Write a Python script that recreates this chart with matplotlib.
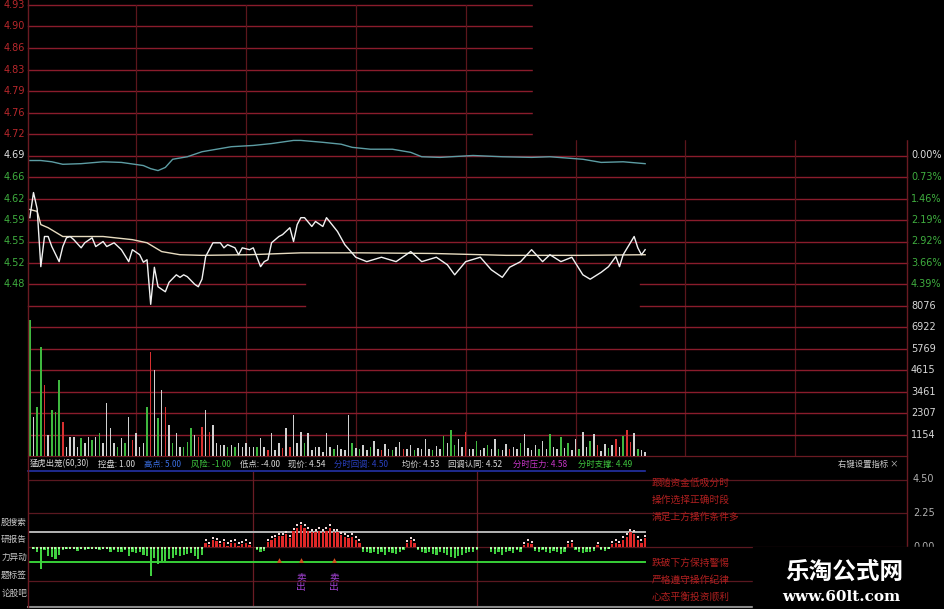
import matplotlib
matplotlib.use('Agg')
import matplotlib.pyplot as plt
import matplotlib.transforms as mtransforms
from matplotlib.patches import Rectangle

plt.rcParams['font.family'] = ['Noto Sans CJK SC', 'DejaVu Sans']

W, H = 945, 609

# ---------------- data ----------------
prev_close = 4.69
left_labels = ['4.93', '4.90', '4.86', '4.83', '4.79', '4.76', '4.72',
               '4.69', '4.66', '4.62', '4.59', '4.55', '4.52', '4.48']
pct_labels = ['0.00%', '0.73%', '1.46%', '2.19%', '2.92%', '3.66%', '4.39%']
vol_labels = ['8076', '6922', '5769', '4615', '3461', '2307', '1154']
vol_top = 8076
ind_labels = ['4.50', '2.25', '0.00']
ind_levels = [4.50, 2.25, 0.00, -2.25]

# price (white line)
price_min = [0, 1, 2, 3, 4, 5, 6, 8, 9, 10, 11, 12, 14, 15, 17, 18, 20, 21, 23, 25,
             27, 28, 30, 31, 32, 33, 34, 35, 37, 38, 40, 41, 42, 43, 45, 46, 47, 48, 50, 52,
             53, 54, 56, 57, 58, 60, 61, 63, 64, 65, 66, 68, 69, 71, 72, 73, 74, 75, 77, 78,
             80, 81, 84, 86, 89, 92, 96, 100, 104, 107, 111, 114, 116, 119, 123, 126, 129, 131, 134, 137,
             140, 142, 145, 148, 151, 153, 156, 158, 160, 161, 162, 165, 166, 167, 168]
price_val = [4.591, 4.631, 4.605, 4.513, 4.561, 4.561, 4.545, 4.521, 4.545, 4.559,
             4.561, 4.556, 4.543, 4.551, 4.559, 4.545, 4.553, 4.545, 4.551, 4.540,
             4.521, 4.540, 4.532, 4.520, 4.524, 4.453, 4.512, 4.481, 4.473, 4.488,
             4.500, 4.496, 4.500, 4.497, 4.485, 4.481, 4.493, 4.529, 4.551, 4.551,
             4.543, 4.548, 4.543, 4.532, 4.543, 4.540, 4.543, 4.513, 4.521, 4.524,
             4.551, 4.561, 4.564, 4.575, 4.553, 4.580, 4.591, 4.591, 4.577, 4.585,
             4.577, 4.591, 4.569, 4.548, 4.528, 4.521, 4.528, 4.521, 4.537, 4.521,
             4.528, 4.516, 4.500, 4.521, 4.528, 4.508, 4.496, 4.512, 4.521, 4.540,
             4.521, 4.532, 4.521, 4.528, 4.500, 4.493, 4.504, 4.513, 4.529, 4.513,
             4.532, 4.561, 4.543, 4.532, 4.540]

# average price (pale yellow line)
avg_min = [0, 2, 3, 5, 9, 20, 28, 32, 36, 41, 47, 60, 74, 90, 110, 130, 150, 168]
avg_val = [4.604, 4.601, 4.580, 4.575, 4.561, 4.561, 4.556, 4.551, 4.537, 4.532,
           4.531, 4.532, 4.535, 4.535, 4.534, 4.531, 4.531, 4.532]

# index overlay (teal line)
idx_min = [0, 3, 6, 9, 14, 20, 25, 31, 33, 35, 37, 39, 43, 47, 51, 55, 61, 66, 72, 74,
           80, 85, 88, 93, 99, 104, 107, 112, 121, 129, 137, 142, 151, 156, 162, 168]
idx_val = [4.682, 4.682, 4.680, 4.676, 4.677, 4.680, 4.679, 4.674, 4.669, 4.666,
           4.671, 4.684, 4.688, 4.696, 4.700, 4.704, 4.706, 4.709, 4.714, 4.714,
           4.711, 4.708, 4.703, 4.700, 4.700, 4.695, 4.688, 4.687, 4.690, 4.688,
           4.687, 4.688, 4.684, 4.679, 4.680, 4.677]

# volume per minute, colour code r/g/w
volume = [7300, 2110, 2650, 5870, 3810, 1130, 2470, 2380, 4080, 1840,
          500, 1040, 1040, 500, 950, 680, 1040, 860, 1040, 1220,
          680, 2830, 1490, 680, 500, 950, 680, 2110, 860, 1220,
          500, 680, 2650, 5600, 4620, 2020, 3540, 2650, 1660, 680,
          1220, 500, 500, 770, 1490, 1130, 1040, 1580, 2470, 1310,
          1660, 680, 590, 590, 500, 590, 500, 680, 500, 680,
          500, 500, 500, 950, 500, 320, 1220, 320, 680, 410,
          1490, 500, 2200, 680, 1310, 680, 1220, 320, 500, 500,
          230, 1220, 500, 350, 600, 400, 300, 2200, 700, 450,
          350, 600, 300, 500, 800, 400, 300, 650, 400, 300,
          500, 750, 350, 400, 600, 300, 450, 350, 900, 400,
          300, 550, 400, 1100, 700, 1400, 600, 900, 500, 1300,
          400, 350, 800, 300, 450, 600, 350, 900, 400, 300,
          650, 400, 500, 350, 700, 1200, 450, 300, 600, 350,
          800, 400, 1200, 500, 350, 1000, 450, 700, 300, 900,
          400, 1300, 500, 800, 1200, 600, 250, 650, 450, 600,
          900, 500, 1050, 1400, 750, 1250, 400, 300, 200]
vol_color = ("gwggrwgggrwwwwgwwgwgwwwwgwgwrwwwgrwgwrwgwwgggwrrwrwwwwgwgwwwwwgwwrwwwrwrwwwgwwwww"
             "wwgwwwwgwgwwgwwrwwgwwrwwgwwwwgwwgwggwwrwwgwwgwwgwwrwwgwwwwgwwgwwgwgwwgwwgwrwwgwrwgrrwgwww")

# 猛虎出笼 indicator per minute
signal = [0, -0.15, -0.35, -1.45, -0.2, -0.6, -0.65, -0.8, -0.5, -0.2,
          -0.1, -0.05, -0.1, -0.25, -0.1, -0.2, -0.1, -0.15, -0.1, -0.2,
          -0.15, -0.1, -0.3, -0.2, -0.3, -0.35, -0.2, -0.6, -0.3, -0.4,
          -0.3, -0.5, -0.6, -1.9, -0.7, -1.1, -0.9, -0.9, -0.8, -0.7,
          -0.5, -0.6, -0.5, -0.45, -0.4, -0.6, -0.8, -0.55, 0.3, 0.15,
          0.45, 0.4, 0.2, 0.35, 0.1, 0.25, 0.3, 0.1, 0.2, 0.3,
          0.15, 0, -0.2, -0.3, -0.25, 0.35, 0.5, 0.6, 0.73, 0.75,
          0.85, 0.6, 1.06, 1.3, 1.45, 1.3, 1.1, 1.0, 1.0, 1.1,
          1.0, 1.1, 1.3, 1.0, 1.0, 0.8, 0.7, 0.6, 0.7, 0.5,
          0.3, -0.3, -0.35, -0.4, -0.3, -0.45, -0.35, -0.5, -0.3, -0.4,
          -0.45, -0.3, -0.2, 0.25, 0.45, 0.3, -0.2, -0.35, -0.4, -0.3,
          -0.45, -0.5, -0.35, -0.4, -0.55, -0.65, -0.7, -0.6, -0.55, -0.4,
          -0.3, -0.35, -0.2, 0, 0, 0, -0.3, -0.45, -0.35, -0.5,
          -0.3, -0.25, -0.4, -0.2, -0.3, 0.15, 0.3, 0.2, -0.25, -0.3,
          -0.2, -0.35, -0.4, -0.25, -0.3, -0.45, -0.3, 0.2, 0.25, -0.2,
          -0.3, -0.4, -0.35, -0.3, -0.25, 0.15, -0.2, -0.25, -0.15, 0.2,
          0.3, 0.2, 0.5, 0.7, 1.0, 0.9, 0.5, 0.3, 0.6]
kongpan = 1.00
fengxian = -1.00
buy_marks = [68, 74, 83]
sell_marks = [74, 83]

header_items = [('猛虎出笼(60,30)', '#d8d8d8', 30), ('控盘: 1.00', '#d8d8d8', 98),
                ('高点: 5.00', '#3a6ee0', 144), ('风险: -1.00', '#3ec43e', 191),
                ('低点: -4.00', '#d8d8d8', 240), ('现价: 4.54', '#d8d8d8', 288),
                ('分时回调: 4.50', '#2a40c0', 334), ('均价: 4.53', '#d8d8d8', 402),
                ('回调认同: 4.52', '#d8d8d8', 448), ('分时压力: 4.58', '#c636c6', 513),
                ('分时支撑: 4.49', '#3ec43e', 578)]
side_labels = ['股搜索', '研报告', '力异动', '题标签', '论股吧']
note_upper = ['跟随资金低吸分时', '操作选择正确时段', '满足上方操作条件多']
note_lower = ['跌破下方保持警惕', '严格遵守操作纪律', '心态平衡投资顺利']

# ---------------- figure ----------------
HGRID = '#8a1c2c'
VGRID = '#5c161c'
fig = plt.figure(figsize=(W / 100, H / 100), dpi=100, facecolor='black')


def box(x0, y0, x1, y1):
    return [x0 / W, 1 - y1 / H, (x1 - x0) / W, (y1 - y0) / H]


X0, X1 = 28, 907
ax_p = fig.add_axes(box(X0, 5, X1, 306))
ax_v = fig.add_axes(box(X0, 306, X1, 456))
ax_i = fig.add_axes(box(X0, 472, X1, 607))
for ax in (ax_p, ax_v, ax_i):
    ax.set_xlim(-0.5, 239.5)
    ax.axis('off')

# price panel
levels = [prev_close * (1 + 0.0073 * k) for k in range(7, -8, -1)]
ax_p.set_ylim(levels[-1], levels[0])
cut = (305 - X0) / (X1 - X0), (640 - X0) / (X1 - X0)
for i, lv in enumerate(levels[:-1]):
    if i == 13:
        ax_p.axhline(lv, xmax=cut[0], color=HGRID, lw=1.0)
        ax_p.axhline(lv, xmin=cut[1], color=HGRID, lw=1.0)
    else:
        ax_p.axhline(lv, color=HGRID, lw=1.0, clip_on=False)
for m in range(29, 239, 30):
    ax_p.axvline(m, color=VGRID, lw=0.9)
    ax_v.axvline(m, color=VGRID, lw=0.9)

ax_p.plot(idx_min, idx_val, color='#5d9da4', lw=1.0, zorder=3)
ax_p.plot(avg_min, avg_val, color='#e8dcc0', lw=1.0, zorder=3)
ax_p.plot(price_min, price_val, color='#f2f2f2', lw=1.0, zorder=4)

tl = mtransforms.blended_transform_factory(fig.transFigure, ax_p.transData)
for i, lab in enumerate(left_labels):
    col = '#b8282c' if i < 7 else ('#e0e0e0' if i == 7 else '#3fae3f')
    ax_p.text(25 / W, levels[i], lab, transform=tl, ha='right', va='center',
              fontsize=7, color=col, family='DejaVu Sans')
for j, lab in enumerate(pct_labels):
    col = '#e0e0e0' if j == 0 else '#3fae3f'
    ax_p.text(911 / W, levels[7 + j], lab, transform=tl, ha='left', va='center',
              fontsize=7, color=col, family='DejaVu Sans')

# volume panel
ax_v.set_ylim(0, vol_top)
cmap = {'r': '#d83030', 'g': '#3fb83f', 'w': '#d0d0d0'}
ax_v.bar(range(len(volume)), volume, width=0.4,
         color=[cmap[c] for c in vol_color[:len(volume)]], zorder=3)
for j in range(7):
    lv = vol_top * (7 - j) / 7
    if j == 0:
        ax_v.axhline(lv, xmax=cut[0], color=HGRID, lw=1.0, clip_on=False)
        ax_v.axhline(lv, xmin=cut[1], color=HGRID, lw=1.0, clip_on=False)
    else:
        ax_v.axhline(lv, color=HGRID, lw=1.0)
ax_v.axhline(0, color='#6a1a22', lw=0.9, clip_on=False)
tv = mtransforms.blended_transform_factory(fig.transFigure, ax_v.transData)
for j, lab in enumerate(vol_labels):
    ax_v.text(911 / W, vol_top * (7 - j) / 7, lab, transform=tv, ha='left',
              va='center', fontsize=7, color='#d8d8d8', family='DejaVu Sans')

# indicator header
for txt, col, x in header_items:
    fig.text(x / W, 1 - 464 / H, txt, color=col, fontsize=6, ha='left', va='center')
fig.add_artist(plt.Line2D([X0 / W, 645 / W], [1 - 470.5 / H] * 2, color='#2432a8', lw=1.2))
fig.text(838 / W, 1 - 464 / H, '右键设置指标 ×', color='#c8c8c8', fontsize=6, ha='left', va='center')

# indicator panel
ax_i.set_ylim(-4, 5)
for lv in ind_levels:
    ax_i.axhline(lv, color='#5a1820', lw=0.9)
for m in (61, 122):
    ax_i.axvline(m, color='#6a1c24', lw=0.9)
ax_i.axhline(-4, color='#8a8a8a', lw=1.5, clip_on=False)
mins = list(range(len(signal)))
ax_i.bar(mins, signal, width=0.62,
         color=['#e02828' if v > 0 else '#40d040' for v in signal], zorder=3)
pos = [(m, v + 0.14) for m, v in zip(mins, signal) if v > 0]
ax_i.scatter([p[0] for p in pos], [p[1] for p in pos], s=2.5, marker='s',
             color='#f0d8d8', zorder=4, linewidths=0)
neg = [m for m, v in zip(mins, signal) if v < 0]
ax_i.scatter(neg, [-0.08] * len(neg), s=2.5, marker='s', color='#a8ffa8',
             zorder=4, linewidths=0)
ax_i.plot([0, mins[-1]], [kongpan, kongpan], color='#b4b4b4', lw=1.4, zorder=2)
ax_i.plot([0, mins[-1]], [fengxian, fengxian], color='#38d038', lw=1.4, zorder=2)
ax_i.scatter(buy_marks, [-0.85] * len(buy_marks), s=12, marker='^',
             color='#d2501c', zorder=5, linewidths=0)
for m in sell_marks:
    ax_i.text(m, -2.35, '卖\n出', color='#a040d0', fontsize=7, ha='center',
              va='center', linespacing=1.0, zorder=5)
ti = mtransforms.blended_transform_factory(fig.transFigure, ax_i.transData)
for lv, lab in zip(ind_levels, ind_labels):
    ax_i.text(913 / W, lv, lab, transform=ti, ha='left', va='center',
              fontsize=7, color='#b0b0b0', family='DejaVu Sans')

for k, txt in enumerate(side_labels):
    fig.text(27 / W, 1 - (522 + 17.8 * k) / H, txt, color='#c8c8c8', fontsize=6.2,
             ha='right', va='center')
for k, txt in enumerate(note_upper):
    fig.text(652 / W, 1 - (483 + 17 * k) / H, txt, color='#b02020', fontsize=7,
             ha='left', va='center')
for k, txt in enumerate(note_lower):
    fig.text(652 / W, 1 - (563 + 17 * k) / H, txt, color='#b02020', fontsize=7,
             ha='left', va='center')

# frame borders
for x in (X0, X1):
    fig.add_artist(plt.Line2D([x / W, x / W], [1 - 607 / H, 1], color='#6a1a22', lw=1.0))

# overlays present in the screenshot
fig.add_artist(Rectangle((533 / W, 1 - 139 / H), (W - 533) / W, 139 / H,
                         transform=fig.transFigure, color='black', zorder=10))
fig.add_artist(Rectangle((753 / W, 0), (W - 753) / W, (H - 547) / H,
                         transform=fig.transFigure, color='black', zorder=10))
fig.text(844 / W, 1 - 572 / H, '乐淘公式网', color='white', fontsize=17,
         fontweight='bold', ha='center', va='center', zorder=11)
fig.text(841 / W, 1 - 597 / H, 'www.60lt.com', color='white', fontsize=11,
         fontweight='bold', family='DejaVu Serif', ha='center', va='center', zorder=11)

fig.savefig('out.png', dpi=100, facecolor='black')
